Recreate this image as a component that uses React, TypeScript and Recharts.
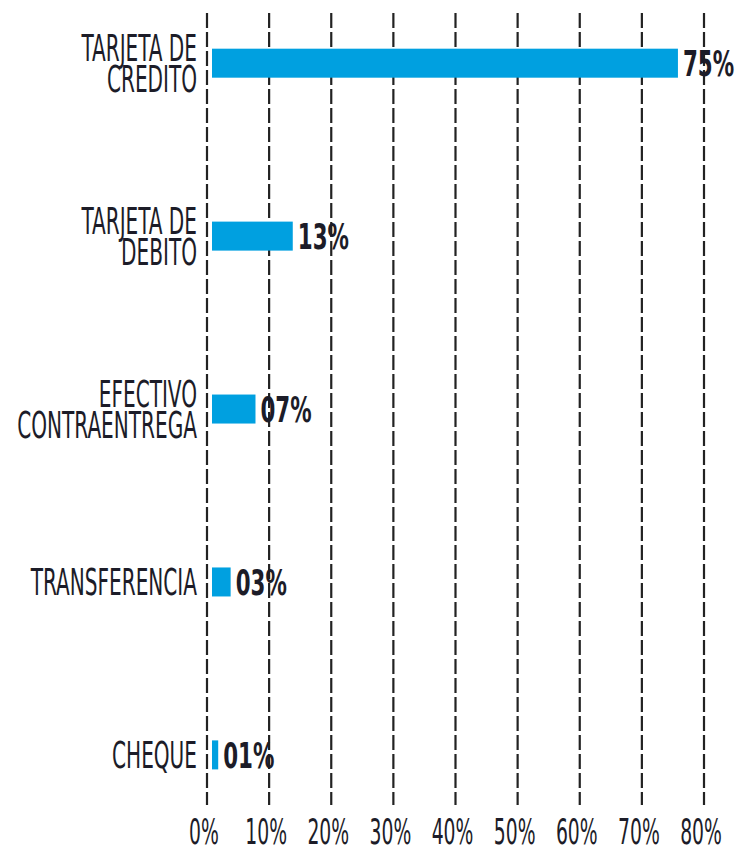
import React from "react";
import { BarChart, Bar, XAxis, YAxis, CartesianGrid, LabelList } from "recharts";

const categories = ["TARJETA DE\nCREDITO", "TARJETA DE\nDEBITO", "EFECTIVO\nCONTRAENTREGA", "TRANSFERENCIA", "CHEQUE"];
const shares = [75, 13, 7, 3, 1];
const xTicks = [0, 10, 20, 30, 40, 50, 60, 70, 80];
const yIndex = [0, 1, 2, 3, 4];

const data = categories.map((name, i) => ({ idx: yIndex[i], name, value: shares[i] }));

const FONT = "'DejaVu Sans Condensed', 'DejaVu Sans', sans-serif";
const TEXT = "#1c1c28";
const BAR = "#00a0e0";
const BAR_SHIFT = 5;

const YTick = (props: any) => {
  const { x, y, payload } = props;
  const lines = categories[payload.value].split("\n");
  const n = lines.length;
  return (
    <g transform={`translate(${x},${y}) scale(0.62,1.03)`}>
      <text x={0} y={13 - (n - 1) * 15} textAnchor="end" fontFamily={FONT} fontSize={36} fill={TEXT}>
        {lines.map((ln, i) => (
          <tspan key={i} x={0} dy={i === 0 ? 0 : 30}>
            {ln}
          </tspan>
        ))}
      </text>
    </g>
  );
};

const XTick = (props: any) => {
  const { x, y, payload } = props;
  return (
    <g transform={`translate(${x - 3},${y + 39}) scale(0.58,1)`}>
      <text x={0} y={0} textAnchor="middle" fontFamily={FONT} fontSize={36} fill={TEXT}>
        {payload.value}%
      </text>
    </g>
  );
};

const ShiftedBar = (props: any) => {
  const { x, y, width, height, fill } = props;
  return <rect x={x + BAR_SHIFT} y={y} width={width} height={height} fill={fill} />;
};

const ValueLabel = (props: any) => {
  const { x, y, width, height, value } = props;
  const tx = x + width + BAR_SHIFT + 5;
  const ty = y + height / 2 + 13;
  return (
    <g transform={`translate(${tx},${ty}) scale(0.66,1)`}>
      <text x={0} y={0} textAnchor="start" fontFamily={FONT} fontWeight="bold" fontSize={36} fill={TEXT}>
        {String(value).padStart(2, "0")}%
      </text>
    </g>
  );
};

export default function App() {
  return (
    <div style={{ position: "absolute", left: 0, top: 0, width: 737, height: 848, background: "#fff" }}>
      <BarChart
        width={737}
        height={848}
        data={data}
        layout="vertical"
        margin={{ top: 13, right: 33, bottom: 0, left: 0 }}
      >
        <CartesianGrid horizontal={false} vertical={true} stroke="#222" strokeWidth={2.2} strokeDasharray="15 4" />
        <XAxis
          type="number"
          domain={[0, 80]}
          ticks={xTicks}
          interval={0}
          axisLine={false}
          tickLine={false}
          tickSize={0}
          tickMargin={0}
          height={43}
          tick={<XTick />}
        />
        <YAxis
          type="number"
          dataKey="idx"
          domain={[-0.29, 4.29]}
          ticks={yIndex}
          interval={0}
          allowDecimals
          axisLine={false}
          tickLine={false}
          tickSize={0}
          tickMargin={10}
          width={207}
          tick={<YTick />}
        />
        <Bar dataKey="value" fill={BAR} barSize={29} isAnimationActive={false} shape={<ShiftedBar />}>
          <LabelList dataKey="value" content={<ValueLabel />} />
        </Bar>
      </BarChart>
    </div>
  );
}
